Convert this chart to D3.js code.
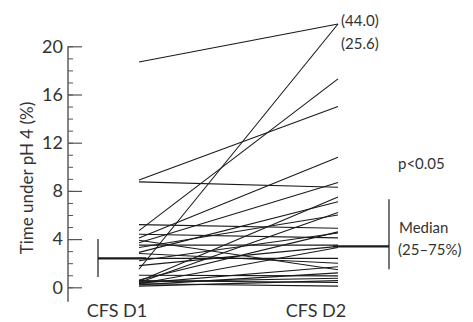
<!DOCTYPE html>
<html>
<head>
<meta charset="utf-8">
<script src="https://cdn.jsdelivr.net/npm/d3@7"></script>
<style>
  body { margin: 0; background: #fff; }
  svg { display: block; font-family: Lato, "Noto Sans", sans-serif; }
</style>
</head>
<body>
<svg id="chart" width="473" height="322"></svg>
<script>
// time under pH 4 (%) per patient, day 1 and day 2
const groups = ['CFS D1', 'CFS D2']
const d1 = [18.7, 1.5, 4.7, 8.9, 4.1, 3.7, 8.75, 0.5, 2.9, 0.4, 3.3, 5.2, 0.6, 2.2,
  4.4, 3.5, 1.8, 0.3, 2.4, 2.8, 0.35, 3.9, 0.2, 1.0, 0.45, 0.1, 0.55, 0.3]
const d2 = [44.0, 25.6, 17.3, 15.0, 10.8, 8.7, 8.3, 7.5, 7.1, 6.2, 6.0, 4.9, 4.6, 4.5,
  4.1, 3.5, 3.4, 3.3, 2.4, 2.0, 1.7, 1.45, 1.2, 0.95, 0.75, 0.55, 0.4, 0.1]
// median and 25-75% range per day
const medians = [2.4, 3.4]
const q25 = [0.85, 1.5]
const q75 = [4.0, 7.3]
const majorTicks = [0, 4, 8, 12, 16, 20]
const minorTicks = d3.range(0, 21)

const svg = d3.select('#chart')
const ink = '#1a1a1a'

const y = d3.scaleLinear().domain([0, 20]).range([287.3, 46.3])
const x = d3.scalePoint().domain(groups).range([139, 338])
const cap = 21.85 // values off the scale are drawn up to here
const yv = v => y(Math.min(v, cap))

// y axis
const axisX = 68
svg.append('line')
  .attr('x1', axisX).attr('x2', axisX)
  .attr('y1', y(20)).attr('y2', y(-1.2))
  .attr('stroke', '#333').attr('stroke-width', 1.2)

svg.append('g')
  .attr('transform', `translate(${axisX},0)`)
  .call(d3.axisLeft(y).tickValues(minorTicks).tickSize(-5).tickFormat(''))
  .call(g => g.select('.domain').remove())
  .selectAll('line').attr('stroke', '#555')

const ax = svg.append('g')
  .attr('transform', `translate(${axisX},0)`)
  .call(d3.axisLeft(y).tickValues(majorTicks).tickSize(-14).tickPadding(5))
ax.select('.domain').remove()
ax.selectAll('line').attr('stroke', '#555').attr('stroke-width', 1.2)
ax.selectAll('text')
  .attr('font-family', 'Lato, sans-serif')
  .attr('font-size', 18).attr('fill', '#333')

svg.append('text')
  .attr('transform', 'translate(33,178) rotate(-90)')
  .attr('text-anchor', 'middle')
  .attr('font-size', 17).attr('fill', '#333')
  .text('Time under pH 4 (%)')

// group labels
svg.selectAll('.glabel')
  .data(groups)
  .enter().append('text')
  .attr('x', d => x(d) - 22)
  .attr('y', 317)
  .attr('text-anchor', 'middle')
  .attr('font-size', 18).attr('fill', '#333')
  .text(d => d)

// patient lines
svg.append('g')
  .selectAll('line')
  .data(d1.map((v, i) => [v, d2[i]]))
  .enter().append('line')
  .attr('x1', x(groups[0])).attr('x2', x(groups[1]))
  .attr('y1', d => yv(d[0])).attr('y2', d => yv(d[1]))
  .attr('stroke', ink).attr('stroke-width', 1.1)

// off-scale values
svg.selectAll('.offscale')
  .data(d2.filter(v => v > cap))
  .enter().append('text')
  .attr('x', x(groups[1]) + 3)
  .attr('y', (d, i) => 26 + i * 23)
  .attr('font-size', 15).attr('fill', '#333')
  .text(d => `(${d.toFixed(1)})`)

// median and 25-75% bars
const barX = [98, 389]
const medFrom = [98, 333]
const medTo = [146, 389]
groups.forEach((g, i) => {
  svg.append('line')
    .attr('x1', barX[i]).attr('x2', barX[i])
    .attr('y1', y(q75[i])).attr('y2', y(q25[i]))
    .attr('stroke', ink).attr('stroke-width', 1.2)
  svg.append('line')
    .attr('x1', medFrom[i]).attr('x2', medTo[i])
    .attr('y1', y(medians[i])).attr('y2', y(medians[i]))
    .attr('stroke', ink).attr('stroke-width', 2.2)
})

svg.append('text')
  .attr('x', 398).attr('y', 169)
  .attr('font-size', 15).attr('fill', '#333')
  .text('p<0.05')

svg.append('text')
  .attr('x', 399).attr('y', 233)
  .attr('font-size', 15).attr('fill', '#333')
  .text('Median')
svg.append('text')
  .attr('x', 398).attr('y', 255)
  .attr('font-size', 15).attr('fill', '#333')
  .text('(25–75%)')
</script>
</body>
</html>
